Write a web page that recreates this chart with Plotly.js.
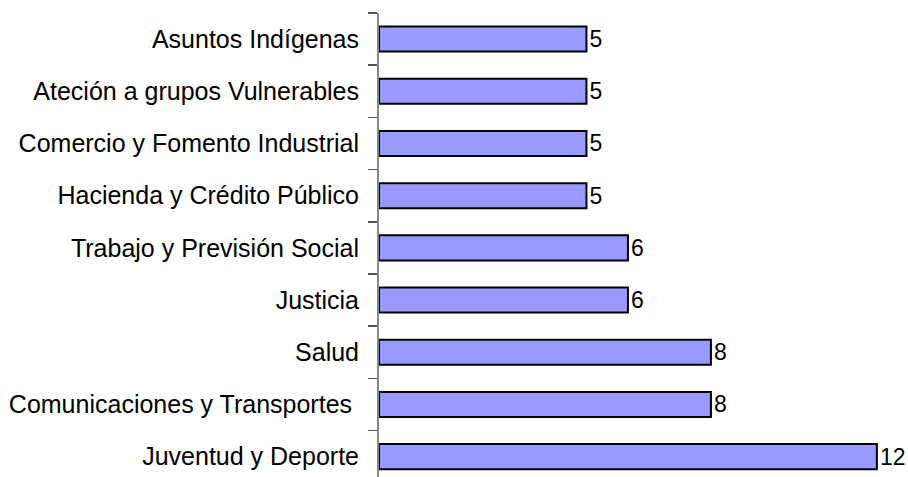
<!DOCTYPE html>
<html>
<head>
<meta charset="utf-8">
<script src="https://cdn.plot.ly/plotly-3.0.1.min.js"></script>
<style>html,body{margin:0;padding:0;background:#fff;}#chart{width:908px;height:477px;}</style>
</head>
<body>
<div id="chart"></div>
<script>
const categories = [
  "Juventud y Deporte",
  "Comunicaciones y Transportes ",
  "Salud",
  "Justicia",
  "Trabajo y Previsión Social",
  "Hacienda y Crédito Público",
  "Comercio y Fomento Industrial",
  "Ateción a grupos Vulnerables",
  "Asuntos Indígenas"
];
const values = [12, 8, 8, 6, 6, 5, 5, 5, 5];

const FONT = "'Liberation Sans Narrow', 'Arial Narrow', 'Liberation Sans', Arial, sans-serif";

const trace = {
  type: 'bar',
  orientation: 'h',
  y: categories,
  x: values,
  text: values.map(String),
  textposition: 'outside',
  constraintext: 'none',
  cliponaxis: false,
  textfont: {family: FONT, size: 23, color: '#000'},
  marker: {color: '#9999FF', line: {color: '#000', width: 2}},
  hoverinfo: 'none'
};

const layout = {
  width: 908,
  height: 477,
  margin: {l: 379, r: 0, t: 13, b: 0, pad: 0},
  paper_bgcolor: '#fff',
  plot_bgcolor: '#fff',
  showlegend: false,
  bargap: 0.52,
  font: {family: FONT, color: '#000'},
  xaxis: {
    range: [0, 12.75],
    visible: false,
    showgrid: false,
    zeroline: false
  },
  yaxis: {
    type: 'category',
    range: [-0.39, 8.5],
    showline: true,
    linecolor: '#888',
    linewidth: 2,
    ticks: 'outside',
    tickson: 'boundaries',
    ticklen: 9,
    tickcolor: '#555',
    tickwidth: 1.5,
    ticklabelstandoff: 13,
    showgrid: false,
    zeroline: false,
    tickfont: {family: FONT, size: 25, color: '#000'}
  }
};

Plotly.newPlot('chart', [trace], layout, {staticPlot: true, displayModeBar: false});
</script>
</body>
</html>
